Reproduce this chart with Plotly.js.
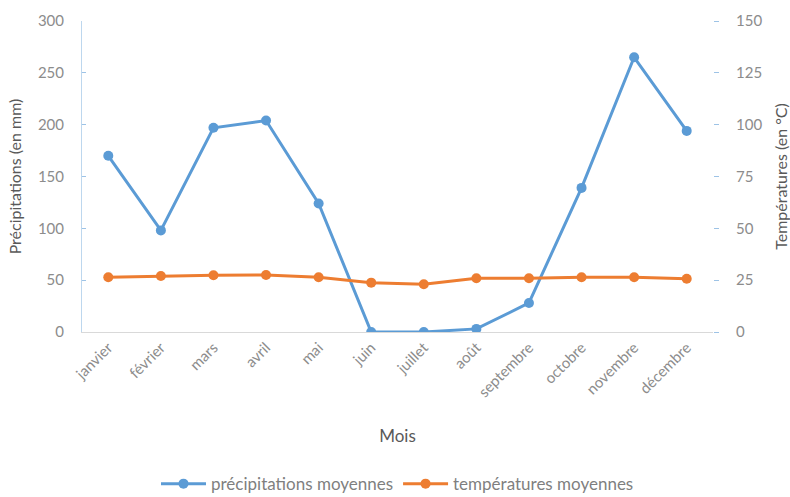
<!DOCTYPE html>
<html><head><meta charset="utf-8">
<script src="https://cdn.plot.ly/plotly-3.0.1.min.js"></script>
<style>body{margin:0;background:#fff}#chart{width:790px;height:497px}</style>
</head><body><div id="chart"></div>
<script>
const months = ["janvier","février","mars","avril","mai","juin","juillet","août","septembre","octobre","novembre","décembre"];
const precipitations = [170, 98, 197, 204, 124, 0, 0, 3, 28, 139, 265, 194];
const temperatures = [26.4, 27.0, 27.4, 27.5, 26.4, 23.8, 23.0, 25.9, 25.9, 26.4, 26.4, 25.7];

const fontFam = "Lato, 'Open Sans', sans-serif";
const traces = [
  {x: months, y: precipitations, name: "précipitations moyennes", type: "scatter", mode: "lines+markers",
   line: {color: "#5B9BD5", width: 3}, marker: {color: "#5B9BD5", size: 10}, yaxis: "y"},
  {x: months, y: temperatures, name: "températures moyennes", type: "scatter", mode: "lines+markers",
   line: {color: "#ED7D31", width: 3}, marker: {color: "#ED7D31", size: 10}, yaxis: "y2"}
];
const layout = {
  width: 790, height: 497,
  margin: {l: 82, r: 77, t: 21, b: 165},
  paper_bgcolor: "#fff", plot_bgcolor: "#fff",
  font: {family: fontFam, color: "#7f7f7f", size: 14},
  showlegend: true,
  legend: {orientation: "h", x: 0.5, xanchor: "center", yref: "container", y: 0.026, yanchor: "middle",
           font: {size: 17, color: "#7f7f7f"}, itemwidth: 45},
  xaxis: {type: "category", range: [-0.5, 11.5], tickangle: -45, showgrid: false, showline: true, linecolor: "#d9d9d9",
          ticks: "", automargin: false, tickfont: {size: 15, color: "#8c8c8c"},
          title: {text: "Mois", font: {size: 17, color: "#595959"}, standoff: 30}},
  yaxis: {range: [0, 300], dtick: 50, showgrid: false, zeroline: false, showline: true, linecolor: "#BDD7EE",
          ticks: "inside", ticklen: 4, tickcolor: "#9DC3E6", tickfont: {size: 15, color: "#8c8c8c"},
          ticklabelstandoff: 14, automargin: false,
          title: {text: "Précipitations (en mm)", font: {size: 16, color: "#595959"}, standoff: 12}},
  yaxis2: {range: [0, 150], dtick: 25, overlaying: "y", side: "right", showgrid: false, zeroline: false,
           showline: false, ticks: "outside", ticklen: 5, tickcolor: "#9DC3E6", automargin: false,
           tickfont: {size: 15, color: "#8c8c8c"}, ticklabelstandoff: 14,
           title: {text: "Températures (en °C)", font: {size: 16, color: "#595959"}, standoff: 14}}
};
Plotly.newPlot("chart", traces, layout, {displayModeBar: false, staticPlot: true});
</script></body></html>
